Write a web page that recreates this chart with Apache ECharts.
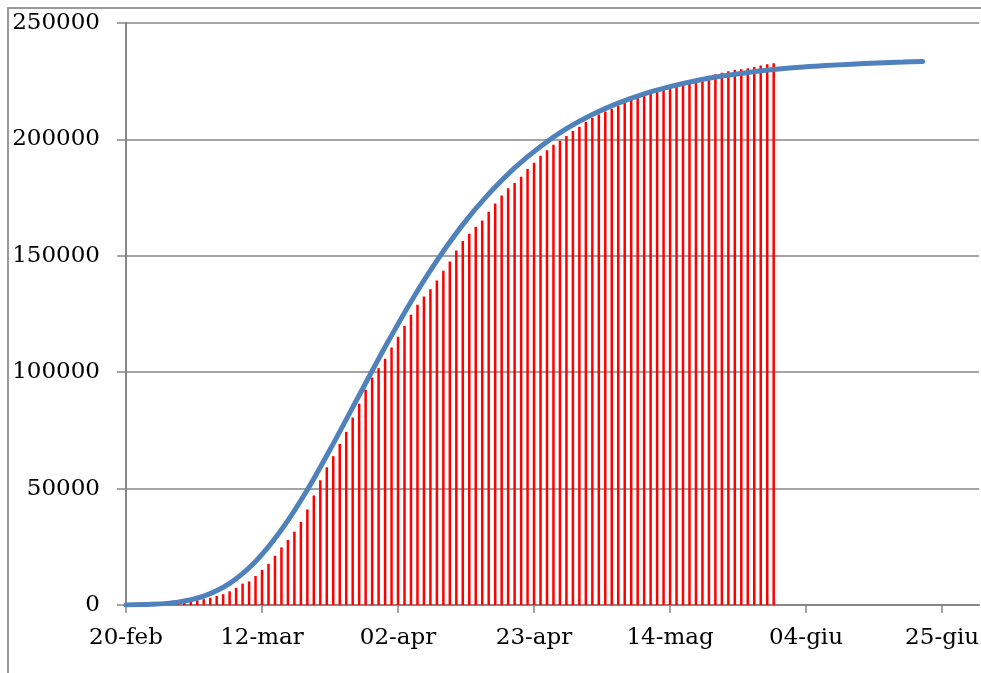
<!DOCTYPE html>
<html>
<head>
<meta charset="utf-8">
<script src="https://cdn.jsdelivr.net/npm/echarts@6/dist/echarts.min.js"></script>
<style>
html, body { margin: 0; padding: 0; background: #fff; }
#chart { width: 981px; height: 673px; }
</style>
</head>
<body>
<div id="chart"></div>
<script>
// casi totali giornalieri (barre), a partire da barStartDate
const barStartDate = '2020-02-24'
const barValues = [
    229, 322, 400, 650, 888, 1128, 1694, 2036, 2502, 3089, 3858, 4636, 5883, 7375, 9172, 10149,
    12462, 15113, 17660, 21157, 24747, 27980, 31506, 35713, 41035, 47021, 53578, 59138, 63927,
    69176, 74386, 80539, 86498, 92472, 97689, 101739, 105792, 110574, 115242, 119827, 124632,
    128948, 132547, 135586, 139422, 143626, 147577, 152271, 156363, 159516, 162488, 165155,
    168941, 172434, 175925, 178972, 181228, 183957, 187327, 189973, 192994, 195351, 197675,
    199414, 201505, 203591, 205463, 207428, 209328, 210717, 211938, 213013, 214457, 215858,
    217185, 218268, 219070, 219814, 221216, 222104, 223096, 223885, 224760, 225435, 225886,
    226699, 227364, 228006, 228658, 229327, 229858, 230158, 230555, 231139, 231732, 232248, 232664
]

const lineDates = [
    '2020-02-20', '2020-02-24', '2020-02-28', '2020-03-03', '2020-03-07', '2020-03-11',
    '2020-03-15', '2020-03-19', '2020-03-23', '2020-03-27', '2020-03-31', '2020-04-04',
    '2020-04-08', '2020-04-12', '2020-04-16', '2020-04-20', '2020-04-24', '2020-04-28',
    '2020-05-02', '2020-05-06', '2020-05-10', '2020-05-14', '2020-05-18', '2020-05-22',
    '2020-05-26', '2020-05-30', '2020-06-03', '2020-06-07', '2020-06-11', '2020-06-15',
    '2020-06-19', '2020-06-22'
]
const lineValues = [
    50, 290, 1240, 3830, 9300, 18700,
    32300, 49500, 69300, 90100, 110800, 130300,
    147900, 163400, 176600, 187800, 197000, 204600,
    210700, 215600, 219600, 222700, 225200, 227200,
    228700, 230000, 231000, 231700, 232300, 232800,
    233200, 233500
]

const tickDates = ['2020-02-20', '2020-03-12', '2020-04-02', '2020-04-23', '2020-05-14', '2020-06-04', '2020-06-25']
const tickLabels = ['20-feb', '12-mar', '02-apr', '23-apr', '14-mag', '04-giu', '25-giu']
const yTicks = [0, 50000, 100000, 150000, 200000, 250000]

const DAY = 86400000
function toTime (s) {
    const p = s.split('-')
    return new Date(+p[0], +p[1] - 1, +p[2]).getTime()
}

const tickTimes = tickDates.map(toTime)
const xMin = tickTimes[0]
const xMax = xMin + 131.7 * DAY

const barStart = toTime(barStartDate)
const barData = barValues.map((v, i) => [barStart + i * DAY, v])
const lineData = lineDates.map((d, i) => [toTime(d), lineValues[i]])

const myChart = echarts.init(document.getElementById('chart'))
const labelFont = { fontFamily: 'DejaVu Serif', fontSize: 23, color: '#000' }

const option = {
    animation: false,
    graphic: [
        {
            type: 'polyline',
            shape: { points: [[8, 700], [8, 8], [1000, 8]] },
            style: { stroke: '#9a9a9a', lineWidth: 2, fill: null },
            silent: true
        }
    ],
    grid: {
        left: 126,
        right: 2,
        top: 23,
        bottom: 68,
        containLabel: false,
        outerBoundsMode: 'none'
    },
    xAxis: {
        type: 'value',
        min: xMin,
        max: xMax,
        splitLine: { show: false },
        axisLine: { show: true, lineStyle: { color: '#868686', width: 2 } },
        axisTick: { show: true, length: 8, customValues: tickTimes, lineStyle: { color: '#868686', width: 1.5 } },
        axisLabel: {
            ...labelFont,
            margin: 22,
            customValues: tickTimes,
            formatter: (v) => {
                const i = tickTimes.findIndex(t => Math.abs(t - v) < DAY / 2)
                return i >= 0 ? tickLabels[i] : ''
            }
        }
    },
    yAxis: {
        type: 'value',
        min: yTicks[0],
        max: yTicks[yTicks.length - 1],
        interval: yTicks[1] - yTicks[0],
        axisLine: { show: true, lineStyle: { color: '#868686', width: 2 } },
        axisTick: { show: true, length: 9, lineStyle: { color: '#868686', width: 1.5 } },
        splitLine: { show: true, lineStyle: { color: '#868686', width: 1.5 } },
        axisLabel: {
            ...labelFont,
            margin: 26,
            formatter: (v) => String(v)
        }
    },
    series: [
        {
            name: 'casi',
            type: 'bar',
            data: barData,
            barWidth: 2.5,
            itemStyle: { color: '#ff0000' }
        },
        {
            name: 'curva',
            type: 'line',
            data: lineData,
            smooth: 0.3,
            showSymbol: false,
            lineStyle: { color: '#4f81bd', width: 5, cap: 'round' },
            z: 3
        }
    ]
}
myChart.setOption(option)
</script>
</body>
</html>
